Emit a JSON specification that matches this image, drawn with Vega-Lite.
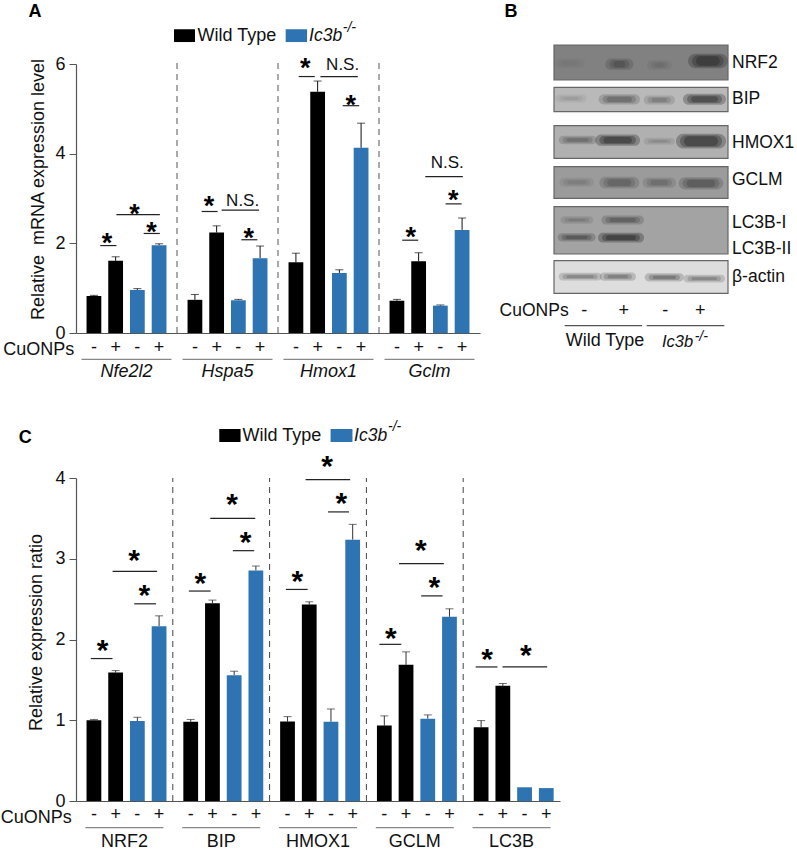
{
"$schema":"https://vega.github.io/schema/vega-lite/v6.json",
"padding":{"left":0,"top":2,"right":0,"bottom":0},
"bounds":"flush",
"spacing":414,
"config":{"font":"Liberation Sans","view":{"stroke":null},"axis":{"grid":false}},
"datasets":{
"barsA":[
{"gene":"Nfe2l2","cond":"WT-","cu":"-","geno":"Wild Type","value":0.825,"upper":0.84},
{"gene":"Nfe2l2","cond":"WT+","cu":"+","geno":"Wild Type","value":1.61,"upper":1.7},
{"gene":"Nfe2l2","cond":"KO-","cu":"-","geno":"Ic3b-/-","value":0.96,"upper":0.99},
{"gene":"Nfe2l2","cond":"KO+","cu":"+","geno":"Ic3b-/-","value":1.96,"upper":1.99},
{"gene":"Hspa5","cond":"WT-","cu":"-","geno":"Wild Type","value":0.74,"upper":0.86},
{"gene":"Hspa5","cond":"WT+","cu":"+","geno":"Wild Type","value":2.24,"upper":2.39},
{"gene":"Hspa5","cond":"KO-","cu":"-","geno":"Ic3b-/-","value":0.73,"upper":0.75},
{"gene":"Hspa5","cond":"KO+","cu":"+","geno":"Ic3b-/-","value":1.67,"upper":1.94},
{"gene":"Hmox1","cond":"WT-","cu":"-","geno":"Wild Type","value":1.58,"upper":1.78},
{"gene":"Hmox1","cond":"WT+","cu":"+","geno":"Wild Type","value":5.38,"upper":5.62},
{"gene":"Hmox1","cond":"KO-","cu":"-","geno":"Ic3b-/-","value":1.34,"upper":1.41},
{"gene":"Hmox1","cond":"KO+","cu":"+","geno":"Ic3b-/-","value":4.13,"upper":4.68},
{"gene":"Gclm","cond":"WT-","cu":"-","geno":"Wild Type","value":0.72,"upper":0.75},
{"gene":"Gclm","cond":"WT+","cu":"+","geno":"Wild Type","value":1.6,"upper":1.79},
{"gene":"Gclm","cond":"KO-","cu":"-","geno":"Ic3b-/-","value":0.61,"upper":0.625},
{"gene":"Gclm","cond":"KO+","cu":"+","geno":"Ic3b-/-","value":2.3,"upper":2.565}
],
"barsC":[
{"gene":"NRF2","cond":"WT-","cu":"-","geno":"Wild Type","value":1.0,"upper":1.01},
{"gene":"NRF2","cond":"WT+","cu":"+","geno":"Wild Type","value":1.59,"upper":1.615},
{"gene":"NRF2","cond":"KO-","cu":"-","geno":"Ic3b-/-","value":0.99,"upper":1.037},
{"gene":"NRF2","cond":"KO+","cu":"+","geno":"Ic3b-/-","value":2.165,"upper":2.293},
{"gene":"BIP","cond":"WT-","cu":"-","geno":"Wild Type","value":0.98,"upper":1.01},
{"gene":"BIP","cond":"WT+","cu":"+","geno":"Wild Type","value":2.45,"upper":2.488},
{"gene":"BIP","cond":"KO-","cu":"-","geno":"Ic3b-/-","value":1.558,"upper":1.607},
{"gene":"BIP","cond":"KO+","cu":"+","geno":"Ic3b-/-","value":2.855,"upper":2.91},
{"gene":"HMOX1","cond":"WT-","cu":"-","geno":"Wild Type","value":0.983,"upper":1.045},
{"gene":"HMOX1","cond":"WT+","cu":"+","geno":"Wild Type","value":2.434,"upper":2.467},
{"gene":"HMOX1","cond":"KO-","cu":"-","geno":"Ic3b-/-","value":0.98,"upper":1.14},
{"gene":"HMOX1","cond":"KO+","cu":"+","geno":"Ic3b-/-","value":3.236,"upper":3.426},
{"gene":"GCLM","cond":"WT-","cu":"-","geno":"Wild Type","value":0.934,"upper":1.054},
{"gene":"GCLM","cond":"WT+","cu":"+","geno":"Wild Type","value":1.686,"upper":1.847},
{"gene":"GCLM","cond":"KO-","cu":"-","geno":"Ic3b-/-","value":1.02,"upper":1.066},
{"gene":"GCLM","cond":"KO+","cu":"+","geno":"Ic3b-/-","value":2.281,"upper":2.38},
{"gene":"LC3B","cond":"WT-","cu":"-","geno":"Wild Type","value":0.913,"upper":0.996},
{"gene":"LC3B","cond":"WT+","cu":"+","geno":"Wild Type","value":1.426,"upper":1.455},
{"gene":"LC3B","cond":"KO-","cu":"-","geno":"Ic3b-/-","value":0.17,"upper":null},
{"gene":"LC3B","cond":"KO+","cu":"+","geno":"Ic3b-/-","value":0.16,"upper":null}
]
},
"vconcat":[
{"bounds":"flush","spacing":74,"hconcat":[
{"width":404,"height":269,"resolve":{"scale":{"x":"independent"},"axis":{"x":"independent"}},
"layer":[
{"data":{"name":"barsA"},
"encoding":{
"x":{"field":"gene","type":"nominal","scale":{"domain":["Nfe2l2","Hspa5","Hmox1","Gclm"],"paddingInner":0,"paddingOuter":0},"axis":{"title":null,"ticks":false,"labelAngle":0,"labelPadding":29,"labelFontSize":18,"labelFontStyle":"italic","labelColor":"#111","domainColor":"#555","domainWidth":1.2}},
"xOffset":{"field":"cond","type":"nominal","scale":{"domain":["WT-","WT+","KO-","KO+"],"paddingInner":0.32,"paddingOuter":0.485}}
},
"layer":[
{"mark":{"type":"rule","color":"#111","strokeWidth":1},"transform":[{"filter":"isValid(datum.upper)"}],"encoding":{"y":{"field":"value","type":"quantitative"},"y2":{"field":"upper"}}},
{"mark":{"type":"tick","orient":"horizontal","size":8,"thickness":1,"color":"#111"},"transform":[{"filter":"isValid(datum.upper)"}],"encoding":{"y":{"field":"upper","type":"quantitative"}}},
{"mark":{"type":"bar"},"encoding":{
"y":{"field":"value","type":"quantitative","scale":{"domain":[0,6],"nice":false},"axis":{"title":"Relative\u00a0\u00a0mRNA expression level","titleFontSize":18,"titleFontWeight":"normal","titleColor":"#111","titleX":-29,"titleY":125,"values":[0,2,4,6],"format":"d","labelFontSize":18,"labelColor":"#111","labelPadding":4,"tickSize":7,"tickColor":"#555","domainColor":"#555","domainWidth":1.2}},
"color":{"field":"geno","type":"nominal","scale":{"domain":["Wild Type","Ic3b-/-"],"range":["#000000","#2e74b2"]},"legend":null}}},
{"mark":{"type":"text","fontSize":18,"baseline":"middle","color":"#111"},"encoding":{"text":{"field":"cu"},"y":{"datum":-0.34}}}
]},
{"data":{"values":[{"gene":"Nfe2l2"},{"gene":"Hspa5"},{"gene":"Hmox1"},{"gene":"Gclm"}]},
"mark":{"type":"tick","orient":"horizontal","size":90,"thickness":1.2,"color":"#555"},
"encoding":{"x":{"field":"gene","type":"nominal","scale":{"domain":["Nfe2l2","Hspa5","Hmox1","Gclm"],"paddingInner":0,"paddingOuter":0},"axis":null},"y":{"datum":-0.587}}},
{"encoding":{},"layer":[
{"data":{"values":[{"u":1},{"u":2},{"u":3}]},"mark":{"type":"rule","strokeDash":[6,5],"color":"#555","strokeWidth":1},
"encoding":{"x":{"field":"u","type":"quantitative","scale":{"domain":[0,4],"nice":false,"zero":false},"axis":null},"y":{"datum":0},"y2":{"datum":6.05}}},
{"data":{"values":[
{"a":0.24,"b":0.40,"y":1.95},{"a":0.40,"b":0.83,"y":2.64},{"a":0.67,"b":0.83,"y":2.22},
{"a":1.244,"b":1.402,"y":2.71},{"a":1.442,"b":1.813,"y":2.74},{"a":1.637,"b":1.796,"y":2.08},
{"a":2.205,"b":2.364,"y":5.72},{"a":2.42,"b":2.79,"y":5.72},{"a":2.641,"b":2.804,"y":5.07},
{"a":3.23,"b":3.388,"y":2.07},{"a":3.458,"b":3.83,"y":3.49},{"a":3.659,"b":3.818,"y":2.88}
]},"mark":{"type":"rule","color":"#222","strokeWidth":1.2},"encoding":{"x":{"field":"a","type":"quantitative"},"x2":{"field":"b"},"y":{"field":"y","type":"quantitative"}}},
{"data":{"values":[
{"u":0.306,"y":2.11,"t":"*"},{"u":0.58,"y":2.77,"t":"*"},{"u":0.748,"y":2.36,"t":"*"},
{"u":1.317,"y":2.94,"t":"*"},{"u":1.71,"y":2.23,"t":"*"},
{"u":2.27,"y":6.02,"t":"*"},{"u":2.72,"y":5.2,"t":"*"},
{"u":3.315,"y":2.25,"t":"*"},{"u":3.735,"y":3.07,"t":"*"}
]},"mark":{"type":"text","fontSize":27,"fontWeight":"bold","dy":6,"baseline":"middle","color":"#000"},"encoding":{"x":{"field":"u","type":"quantitative"},"y":{"field":"y","type":"quantitative"},"text":{"field":"t"}}},
{"data":{"values":[{"u":1.65,"y":2.95,"t":"N.S."},{"u":2.64,"y":5.98,"t":"N.S."},{"u":3.676,"y":3.79,"t":"N.S."}]},"mark":{"type":"text","fontSize":17,"baseline":"middle","color":"#111"},"encoding":{"x":{"field":"u","type":"quantitative"},"y":{"field":"y","type":"quantitative"},"text":{"field":"t"}}},
{"data":{"values":[{"geno":"Wild Type","a":0.97,"b":1.178,"y":6.775,"y2":6.49},{"geno":"Ic3b-/-","a":2.076,"b":2.288,"y":6.775,"y2":6.49}]},"mark":{"type":"rect"},"encoding":{"x":{"field":"a","type":"quantitative"},"x2":{"field":"b"},"y":{"field":"y","type":"quantitative"},"y2":{"field":"y2"},"color":{"field":"geno","type":"nominal","legend":null}}},
{"data":{"values":[{"u":1.204,"y":6.625,"t":"Wild Type"}]},"mark":{"type":"text","fontSize":18,"align":"left","baseline":"middle","color":"#111"},"encoding":{"x":{"field":"u","type":"quantitative"},"y":{"field":"y","type":"quantitative"},"text":{"field":"t"}}},
{"data":{"values":[{"u":2.308,"y":6.625,"t":"Ic3b"}]},"mark":{"type":"text","fontSize":17.5,"fontStyle":"italic","align":"left","baseline":"middle","color":"#111"},"encoding":{"x":{"field":"u","type":"quantitative"},"y":{"field":"y","type":"quantitative"},"text":{"field":"t"}}},
{"data":{"values":[{"u":2.641,"y":6.8,"t":"-/-"}]},"mark":{"type":"text","fontSize":14,"fontStyle":"italic","align":"left","baseline":"middle","color":"#111"},"encoding":{"x":{"field":"u","type":"quantitative"},"y":{"field":"y","type":"quantitative"},"text":{"field":"t"}}},
{"data":{"values":[{"u":-0.407,"y":7.16,"t":"A"}]},"mark":{"type":"text","fontSize":18,"fontWeight":"bold","baseline":"middle","color":"#000"},"encoding":{"x":{"field":"u","type":"quantitative"},"y":{"field":"y","type":"quantitative"},"text":{"field":"t"}}},
{"data":{"values":[{"u":-0.018,"y":-0.38,"t":"CuONPs"}]},"mark":{"type":"text","fontSize":18,"align":"right","baseline":"middle","color":"#111"},"encoding":{"x":{"field":"u","type":"quantitative"},"y":{"field":"y","type":"quantitative"},"text":{"field":"t"}}}
]}
]},
{"width":174,"height":269,
"encoding":{
"x":{"field":"a","type":"quantitative","scale":{"domain":[194,716],"nice":false,"zero":false},"axis":null},
"y":{"field":"y1","type":"quantitative","scale":{"domain":[192,999],"reverse":true,"nice":false,"zero":false},"axis":null}
},
"layer":[
{"data":{"name":"blots","values":[
{"blot":"NRF2","a":194,"b":716,"y1":135,"y2":240,"density":0.46},
{"blot":"BIP","a":194,"b":716,"y1":262,"y2":335,"density":0.25},
{"blot":"HMOX1","a":194,"b":716,"y1":377,"y2":475,"density":0.28},
{"blot":"GCLM","a":194,"b":716,"y1":500,"y2":595,"density":0.36},
{"blot":"LC3B","a":194,"b":716,"y1":620,"y2":762,"density":0.33},
{"blot":"actin","a":194,"b":716,"y1":782,"y2":880,"density":0.12}
]},"mark":{"type":"rect","stroke":"#666","strokeWidth":1.2},"encoding":{"x2":{"field":"b"},"y2":{"field":"y2"},"color":{"field":"density","type":"quantitative","scale":{"domain":[0,1],"range":["#ffffff","#000000"]},"legend":null}}},
{"data":{"name":"bands","values":[
{"blot":"NRF2","lane":1,"a":205,"b":275,"y1":180,"y2":200,"d":0.1},
{"blot":"NRF2","lane":2,"a":360,"b":420,"y1":180,"y2":205,"d":0.5},
{"blot":"NRF2","lane":3,"a":485,"b":535,"y1":185,"y2":205,"d":0.2},
{"blot":"NRF2","lane":4,"a":608,"b":703,"y1":166,"y2":200,"d":0.85},
{"blot":"BIP","lane":1,"a":210,"b":280,"y1":288,"y2":303,"d":0.2},
{"blot":"BIP","lane":2,"a":340,"b":440,"y1":287,"y2":309,"d":0.6},
{"blot":"BIP","lane":3,"a":475,"b":545,"y1":291,"y2":309,"d":0.45},
{"blot":"BIP","lane":4,"a":593,"b":698,"y1":286,"y2":310,"d":0.95},
{"blot":"HMOX1","lane":1,"a":220,"b":310,"y1":412,"y2":428,"d":0.55},
{"blot":"HMOX1","lane":2,"a":330,"b":440,"y1":408,"y2":433,"d":1},
{"blot":"HMOX1","lane":3,"a":475,"b":545,"y1":418,"y2":430,"d":0.3},
{"blot":"HMOX1","lane":4,"a":572,"b":698,"y1":406,"y2":441,"d":1},
{"blot":"GCLM","lane":1,"a":222,"b":302,"y1":538,"y2":556,"d":0.25},
{"blot":"GCLM","lane":2,"a":342,"b":438,"y1":535,"y2":561,"d":0.5},
{"blot":"GCLM","lane":3,"a":472,"b":548,"y1":537,"y2":559,"d":0.4},
{"blot":"GCLM","lane":4,"a":580,"b":690,"y1":536,"y2":564,"d":0.6},
{"blot":"LC3B-I","lane":1,"a":225,"b":300,"y1":653,"y2":667,"d":0.35},
{"blot":"LC3B-I","lane":2,"a":348,"b":452,"y1":651,"y2":669,"d":0.6},
{"blot":"LC3B-II","lane":1,"a":217,"b":307,"y1":704,"y2":720,"d":0.7},
{"blot":"LC3B-II","lane":2,"a":338,"b":452,"y1":703,"y2":723,"d":1},
{"blot":"actin","lane":1,"a":220,"b":325,"y1":823,"y2":837,"d":0.6},
{"blot":"actin","lane":2,"a":343,"b":428,"y1":822,"y2":838,"d":0.65},
{"blot":"actin","lane":3,"a":478,"b":572,"y1":824,"y2":840,"d":0.7},
{"blot":"actin","lane":4,"a":595,"b":695,"y1":829,"y2":843,"d":0.6}
]},"mark":{"type":"rect","cornerRadius":10,"fill":"#000","stroke":null,"xOffset":-4,"x2Offset":4,"yOffset":-1.5,"y2Offset":1.5},"encoding":{"x2":{"field":"b"},"y2":{"field":"y2"},"opacity":{"field":"d","type":"quantitative","scale":{"domain":[0,1],"range":[0,0.25]},"legend":null}}},
{"data":{"name":"bands"},"mark":{"type":"rect","cornerRadius":10,"fill":"#000","stroke":null},"encoding":{"x2":{"field":"b"},"y2":{"field":"y2"},"opacity":{"field":"d","type":"quantitative","scale":{"domain":[0,1],"range":[0,0.5]},"legend":null}}},
{"data":{"name":"bands"},"mark":{"type":"rect","cornerRadius":10,"fill":"#000","stroke":null,"xOffset":4,"x2Offset":-4,"yOffset":1,"y2Offset":-1},"encoding":{"x2":{"field":"b"},"y2":{"field":"y2"},"opacity":{"field":"d","type":"quantitative","scale":{"domain":[0,1],"range":[0,0.9]},"legend":null}}},
{"data":{"values":[{"a":226,"b":458,"y1":977},{"a":472,"b":705,"y1":977}]},"mark":{"type":"rule","color":"#555","strokeWidth":1.2},"encoding":{"x2":{"field":"b"}}},
{"data":{"values":[{"a":728,"y1":190,"t":"NRF2"},{"a":728,"y1":297,"t":"BIP"},{"a":728,"y1":430,"t":"HMOX1"},{"a":728,"y1":540,"t":"GCLM"},{"a":728,"y1":668,"t":"LC3B-I"},{"a":728,"y1":747,"t":"LC3B-II"},{"a":728,"y1":830,"t":"\u03b2-actin"}]},"mark":{"type":"text","fontSize":17.5,"align":"left","baseline":"middle","color":"#111"},"encoding":{"text":{"field":"t"}}},
{"data":{"values":[{"a":238,"y1":933,"t":"CuONPs"}]},"mark":{"type":"text","fontSize":17.5,"align":"right","baseline":"middle","color":"#111"},"encoding":{"text":{"field":"t"}}},
{"data":{"values":[{"a":285,"y1":933,"t":"-"},{"a":403,"y1":933,"t":"+"},{"a":528,"y1":933,"t":"-"},{"a":633,"y1":933,"t":"+"},{"a":347,"y1":1022,"t":"Wild Type"}]},"mark":{"type":"text","fontSize":18,"baseline":"middle","color":"#111"},"encoding":{"text":{"field":"t"}}},
{"data":{"values":[{"a":518,"y1":1026,"t":"Ic3b"}]},"mark":{"type":"text","fontSize":16.5,"fontStyle":"italic","align":"left","baseline":"middle","color":"#111"},"encoding":{"text":{"field":"t"}}},
{"data":{"values":[{"a":616,"y1":1010,"t":"-/-"}]},"mark":{"type":"text","fontSize":14,"fontStyle":"italic","align":"left","baseline":"middle","color":"#111"},"encoding":{"text":{"field":"t"}}},
{"data":{"values":[{"a":65,"y1":36,"t":"B"}]},"mark":{"type":"text","fontSize":18,"fontWeight":"bold","baseline":"middle","color":"#000"},"encoding":{"text":{"field":"t"}}}
]}
]},
{"width":484,"height":323,"resolve":{"scale":{"x":"independent"},"axis":{"x":"independent"}},
"layer":[
{"data":{"name":"barsC"},
"encoding":{
"x":{"field":"gene","type":"nominal","scale":{"domain":["NRF2","BIP","HMOX1","GCLM","LC3B"],"paddingInner":0,"paddingOuter":0},"axis":{"title":null,"ticks":false,"labelAngle":0,"labelPadding":31,"labelFontSize":18,"labelColor":"#111","domainColor":"#555","domainWidth":1.2}},
"xOffset":{"field":"cond","type":"nominal","scale":{"domain":["WT-","WT+","KO-","KO+"],"paddingInner":0.33,"paddingOuter":0.495}}
},
"layer":[
{"mark":{"type":"rule","color":"#333","strokeWidth":1},"transform":[{"filter":"isValid(datum.upper)"}],"encoding":{"y":{"field":"value","type":"quantitative"},"y2":{"field":"upper"}}},
{"mark":{"type":"tick","orient":"horizontal","size":8,"thickness":1,"color":"#333"},"transform":[{"filter":"isValid(datum.upper)"}],"encoding":{"y":{"field":"upper","type":"quantitative"}}},
{"mark":{"type":"bar"},"encoding":{
"y":{"field":"value","type":"quantitative","scale":{"domain":[0,4],"nice":false},"axis":{"title":"Relative expression ratio","titleFontSize":18,"titleFontWeight":"normal","titleColor":"#111","titleX":-31,"titleY":154,"values":[0,1,2,3,4],"format":"d","labelFontSize":18,"labelColor":"#111","labelPadding":4,"tickSize":7,"tickColor":"#555","domainColor":"#555","domainWidth":1.2}},
"color":{"field":"geno","type":"nominal","scale":{"domain":["Wild Type","Ic3b-/-"],"range":["#000000","#2e74b2"]},"legend":null}}},
{"mark":{"type":"text","fontSize":18,"baseline":"middle","color":"#111"},"encoding":{"text":{"field":"cu"},"y":{"datum":-0.177}}}
]},
{"data":{"values":[{"gene":"NRF2"},{"gene":"BIP"},{"gene":"HMOX1"},{"gene":"GCLM"},{"gene":"LC3B"}]},
"mark":{"type":"tick","orient":"horizontal","size":78,"thickness":1.2,"color":"#555"},
"encoding":{"x":{"field":"gene","type":"nominal","scale":{"domain":["NRF2","BIP","HMOX1","GCLM","LC3B"],"paddingInner":0,"paddingOuter":0},"axis":null},"y":{"datum":-0.33}}},
{"encoding":{},"layer":[
{"data":{"values":[{"u":1},{"u":2},{"u":3},{"u":4}]},"mark":{"type":"rule","strokeDash":[6,5],"color":"#444","strokeWidth":1},
"encoding":{"x":{"field":"u","type":"quantitative","scale":{"domain":[0,5],"nice":false,"zero":false},"axis":null},"y":{"datum":0},"y2":{"datum":4}}},
{"data":{"values":[
{"a":0.153,"b":0.377,"y":1.764},{"a":0.378,"b":0.838,"y":2.843},{"a":0.602,"b":0.827,"y":2.442},
{"a":1.166,"b":1.391,"y":2.6},{"a":1.387,"b":1.852,"y":3.5},{"a":1.62,"b":1.841,"y":3.1},
{"a":2.168,"b":2.393,"y":2.62},{"a":2.372,"b":2.832,"y":3.98},{"a":2.604,"b":2.82,"y":3.58},
{"a":3.134,"b":3.36,"y":1.94},{"a":3.337,"b":3.8,"y":2.94},{"a":3.566,"b":3.787,"y":2.54},
{"a":4.129,"b":4.354,"y":1.66},{"a":4.406,"b":4.867,"y":1.66}
]},"mark":{"type":"rule","color":"#222","strokeWidth":1.2},"encoding":{"x":{"field":"a","type":"quantitative"},"x2":{"field":"b"},"y":{"field":"y","type":"quantitative"}}},
{"data":{"values":[
{"u":0.274,"y":1.96,"t":"*"},{"u":0.599,"y":3.07,"t":"*"},{"u":0.705,"y":2.64,"t":"*"},
{"u":1.284,"y":2.79,"t":"*"},{"u":1.612,"y":3.76,"t":"*"},{"u":1.752,"y":3.3,"t":"*"},
{"u":2.287,"y":2.81,"t":"*"},{"u":2.593,"y":4.23,"t":"*"},{"u":2.74,"y":3.78,"t":"*"},
{"u":3.253,"y":2.11,"t":"*"},{"u":3.562,"y":3.2,"t":"*"},{"u":3.702,"y":2.74,"t":"*"},
{"u":4.248,"y":1.85,"t":"*"},{"u":4.646,"y":1.9,"t":"*"}
]},"mark":{"type":"text","fontSize":30,"fontWeight":"bold","dy":8,"baseline":"middle","color":"#000"},"encoding":{"x":{"field":"u","type":"quantitative"},"y":{"field":"y","type":"quantitative"},"text":{"field":"t"}}},
{"data":{"values":[{"geno":"Wild Type","a":1.48,"b":1.7,"y":4.607,"y2":4.446},{"geno":"Ic3b-/-","a":2.63,"b":2.856,"y":4.607,"y2":4.446}]},"mark":{"type":"rect"},"encoding":{"x":{"field":"a","type":"quantitative"},"x2":{"field":"b"},"y":{"field":"y","type":"quantitative"},"y2":{"field":"y2"},"color":{"field":"geno","type":"nominal","legend":null}}},
{"data":{"values":[{"u":1.72,"y":4.52,"t":"Wild Type"}]},"mark":{"type":"text","fontSize":18,"align":"left","baseline":"middle","color":"#111"},"encoding":{"x":{"field":"u","type":"quantitative"},"y":{"field":"y","type":"quantitative"},"text":{"field":"t"}}},
{"data":{"values":[{"u":2.873,"y":4.52,"t":"Ic3b"}]},"mark":{"type":"text","fontSize":17.5,"fontStyle":"italic","align":"left","baseline":"middle","color":"#111"},"encoding":{"x":{"field":"u","type":"quantitative"},"y":{"field":"y","type":"quantitative"},"text":{"field":"t"}}},
{"data":{"values":[{"u":3.223,"y":4.63,"t":"-/-"}]},"mark":{"type":"text","fontSize":14,"fontStyle":"italic","align":"left","baseline":"middle","color":"#111"},"encoding":{"x":{"field":"u","type":"quantitative"},"y":{"field":"y","type":"quantitative"},"text":{"field":"t"}}},
{"data":{"values":[{"u":-0.525,"y":4.49,"t":"C"}]},"mark":{"type":"text","fontSize":18,"fontWeight":"bold","baseline":"middle","color":"#000"},"encoding":{"x":{"field":"u","type":"quantitative"},"y":{"field":"y","type":"quantitative"},"text":{"field":"t"}}},
{"data":{"values":[{"u":-0.043,"y":-0.21,"t":"CuONPs"}]},"mark":{"type":"text","fontSize":18,"align":"right","baseline":"middle","color":"#111"},"encoding":{"x":{"field":"u","type":"quantitative"},"y":{"field":"y","type":"quantitative"},"text":{"field":"t"}}}
]}
]}
]
}
